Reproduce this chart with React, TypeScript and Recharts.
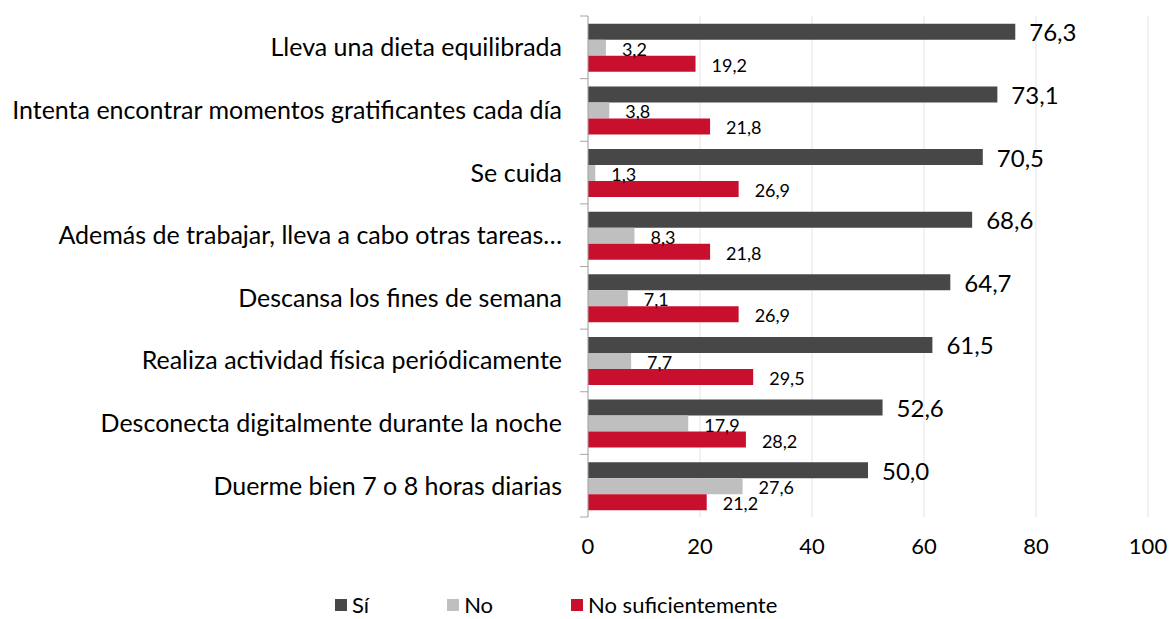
import { BarChart, Bar, XAxis, YAxis, CartesianGrid, LabelList } from "recharts";

const categories = [
  "Lleva una dieta equilibrada",
  "Intenta encontrar momentos gratificantes cada día",
  "Se cuida",
  "Además de trabajar, lleva a cabo otras tareas…",
  "Descansa los fines de semana",
  "Realiza actividad física periódicamente",
  "Desconecta digitalmente durante la noche",
  "Duerme bien 7 o 8 horas diarias",
];
const si = [76.3, 73.1, 70.5, 68.6, 64.7, 61.5, 52.6, 50.0];
const no = [3.2, 3.8, 1.3, 8.3, 7.1, 7.7, 17.9, 27.6];
const noSuf = [19.2, 21.8, 26.9, 21.8, 26.9, 29.5, 28.2, 21.2];
const xTicks = [0, 20, 40, 60, 80, 100];

const SERIES = [
  { key: "si", name: "Sí", color: "#474747" },
  { key: "no", name: "No", color: "#BFBFBF" },
  { key: "noSuf", name: "No suficientemente", color: "#C8102E" },
];

const data = categories.map((name, i) => ({ name, si: si[i], no: no[i], noSuf: noSuf[i] }));

const FONT = "Lato, 'Open Sans', sans-serif";
const fmt = (v: number) => v.toFixed(1).replace(".", ",");

const makeLabel = (size: number, dx: number, dy: number) => (props: any) => {
  const { x, y, width, height, value } = props;
  return (
    <text
      x={x + width + dx}
      y={y + height / 2 + dy}
      fontSize={size}
      fontFamily={FONT}
      fill="#000"
      dominantBaseline="central"
    >
      {fmt(value)}
    </text>
  );
};

const YTick = (props: any) => {
  const { x, y, payload, index } = props;
  const half = 501 / 8 / 2;
  return (
    <g>
      <line x1={x} x2={x + 8} y1={y - half} y2={y - half} stroke="#A6A6A6" />
      {index === categories.length - 1 && (
        <line x1={x} x2={x + 8} y1={y + half} y2={y + half} stroke="#A6A6A6" />
      )}
      <text
        x={x - 18}
        y={y - 1}
        textAnchor="end"
        dominantBaseline="central"
        fontSize={25}
        fontFamily={FONT}
        fill="#000"
      >
        {payload.value}
      </text>
    </g>
  );
};

const ChartLegend = () => (
  <div
    style={{
      position: "absolute",
      left: 335,
      top: 592,
      display: "flex",
      fontFamily: FONT,
      fontSize: 22,
      lineHeight: "26px",
    }}
  >
    {SERIES.map((s) => (
      <div key={s.key} style={{ display: "flex", alignItems: "center", marginRight: 78 }}>
        <span style={{ width: 12, height: 12, background: s.color, marginRight: 5, display: "inline-block" }} />
        <span>{s.name}</span>
      </div>
    ))}
  </div>
);

export default function App() {
  return (
    <div style={{ position: "fixed", left: 0, top: 0, background: "#fff", width: 1171, height: 619 }}>
      <BarChart
        width={1171}
        height={619}
        data={data}
        layout="vertical"
        margin={{ top: 16, right: 23, bottom: 72, left: 0 }}
        barCategoryGap="12.5%"
        barGap={0}
      >
        <CartesianGrid horizontal={false} stroke="#E3E3E3" />
        <XAxis
          type="number"
          domain={[0, 100]}
          ticks={xTicks}
          height={30}
          axisLine={false}
          tickLine={false}
          tickSize={0}
          tickMargin={21}
          tick={{ fontSize: 22, fontFamily: FONT, fill: "#000" }}
        />
        <YAxis
          type="category"
          dataKey="name"
          width={588}
          axisLine={{ stroke: "#A6A6A6" }}
          tickLine={false}
          tick={<YTick />}
          interval={0}
        />
        <Bar dataKey="si" name="Sí" fill="#474747" isAnimationActive={false}>
          <LabelList dataKey="si" content={makeLabel(24, 14, 0)} />
        </Bar>
        <Bar dataKey="no" name="No" fill="#BFBFBF" isAnimationActive={false}>
          <LabelList dataKey="no" content={makeLabel(18, 16, 1)} />
        </Bar>
        <Bar dataKey="noSuf" name="No suficientemente" fill="#C8102E" isAnimationActive={false}>
          <LabelList dataKey="noSuf" content={makeLabel(18, 16, 1)} />
        </Bar>
      </BarChart>
      <ChartLegend />
    </div>
  );
}
